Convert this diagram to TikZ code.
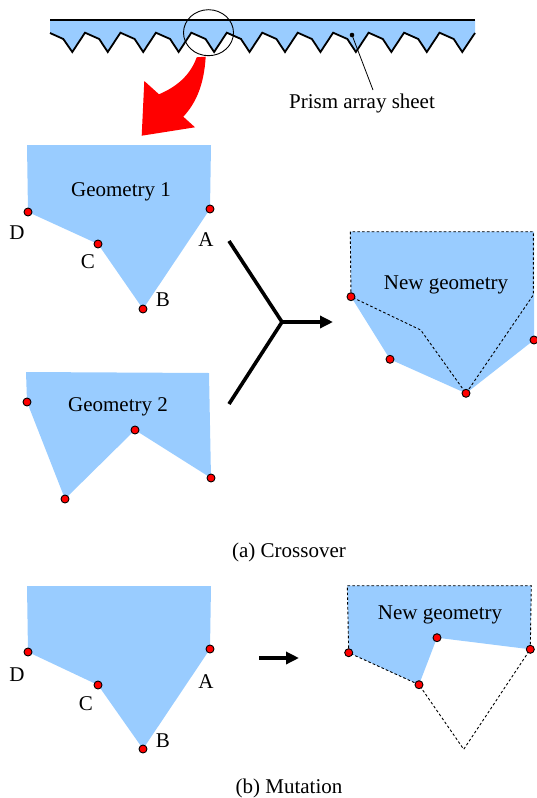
\documentclass[tikz,border=0pt]{standalone}
\usepackage{fontspec}
\setmainfont{Liberation Serif}
\definecolor{prismblue}{RGB}{153, 204, 255}
\usetikzlibrary{shapes.geometric, arrows.meta, positioning, calc}
\tikzset{
  vertexdot/.style={circle, draw=black, fill=red, line width=0.9pt, inner sep=0pt, minimum size=8pt},
  shapefill/.style={fill=prismblue, draw=none},
  dashline/.style={draw=black, dash pattern=on 2.6pt off 2.2pt, line width=0.9pt},
  textlabel/.style={font=\fontsize{21}{21}\selectfont, inner sep=0pt, yshift=-2pt},
  bigline/.style={draw=black, line width=3.6pt},
  bigarrow/.style={bigline, -{Stealth[length=13pt, width=12pt, inset=0pt]}}
}
\begin{document}
\begin{tikzpicture}[x=1pt, y=-1pt]
  \useasboundingbox (0,0) rectangle (536,798);

  % prism array sheet
  \fill[prismblue] (50,20) -- (475,20) -- (475,33) -- (462.25,52)
    \foreach \i in {10,9,...,0} {
      -- ({72.3+35.45*\i+26.9},39) -- ({72.3+35.45*\i+12.7},32.7) -- ({72.3+35.45*\i},52)
    } -- (63.3,39) -- (50,33) -- cycle;
  \draw[line width=1.8pt] (50,33) -- (63.3,39)
    \foreach \i in {0,...,10} {
      -- ({72.3+35.45*\i},52) -- ({72.3+35.45*\i+12.7},32.7) -- ({72.3+35.45*\i+26.9},39)
    } -- (462.25,52) -- (475,33);
  \draw[line width=1.8pt] (50,20) -- (475,20);
  \node[draw=black, ellipse, line width=0.9pt, minimum width=50pt, minimum height=46pt, inner sep=0pt] (zoomring) at (208.5,32.7) {};

  \node[textlabel] (sheetlabel) at (362,101) {Prism array sheet};
  \coordinate (sheettip) at (352,35);
  \fill (sheettip) circle (2.3pt);
  \draw[line width=0.8pt] (sheettip) -- (373,90);

  % red arrow
  \fill[red] (196.7,57.3) -- (205.7,56.7) .. controls (204,85) and (196,103) .. (183.3,116.7)
    -- (195,127.3) -- (141.7,135.7) -- (144.3,81) -- (159,94.3)
    .. controls (176,87) and (190,76) .. cycle;

  % geometry 1
  \fill[shapefill] (27,145) -- (211,145) -- (210,209) -- (143,309) -- (98,244) -- (28,212) -- cycle;
  \node[vertexdot] (oneA) at (210,209) {};
  \node[vertexdot] (oneB) at (143,309) {};
  \node[vertexdot] (oneC) at (98,244) {};
  \node[vertexdot] (oneD) at (28,212) {};
  \node[textlabel] (oneTitle) at (121,190) {Geometry 1};
  \node[textlabel] (oneLabelA) at (206,238) {A};
  \node[textlabel] (oneLabelB) at (163,298) {B};
  \node[textlabel] (oneLabelC) at (88,260) {C};
  \node[textlabel] (oneLabelD) at (17,231) {D};

  % geometry 2
  \fill[shapefill] (26,372) -- (209,373) -- (211,478) -- (135,430) -- (65,499) -- (27,402) -- cycle;
  \node[vertexdot] (twoA) at (211,478) {};
  \node[vertexdot] (twoB) at (135,430) {};
  \node[vertexdot] (twoC) at (65,499) {};
  \node[vertexdot] (twoD) at (27,402) {};
  \node[textlabel] (twoTitle) at (118,405) {Geometry 2};

  % crossover arrows
  \coordinate (joint) at (282,322);
  \coordinate (upper) at (229,241);
  \coordinate (lower) at (229,404);
  \coordinate (jointend) at (333,322);
  \draw[bigline, line join=bevel] (upper) -- (joint) -- (lower);
  \draw[bigarrow] (joint) -- (jointend);

  % crossover result
  \fill[shapefill] (350.3,231.7) -- (534,231.7) -- (534,340) -- (466,393.3) -- (390,359.3) -- (351,296.7) -- cycle;
  \draw[dashline] (351,296.7) -- (350.3,231.7) -- (533.3,231.7) -- (533.3,295) -- (466,393.3) -- (420.7,330) -- cycle;
  \node[vertexdot] (newA) at (534,340) {};
  \node[vertexdot] (newB) at (466,393.3) {};
  \node[vertexdot] (newC) at (390,359.3) {};
  \node[vertexdot] (newD) at (351,296.7) {};
  \node[textlabel] (newTitle) at (446,283) {New geometry};

  \node[textlabel] (captionA) at (289,550) {(a) Crossover};

  % mutation, parent
  \fill[shapefill] (27,586) -- (211,586) -- (210,649) -- (143,749) -- (98,685) -- (28,652) -- cycle;
  \node[vertexdot] (mutA) at (210,649) {};
  \node[vertexdot] (mutB) at (143,749) {};
  \node[vertexdot] (mutC) at (98,685) {};
  \node[vertexdot] (mutD) at (28,652) {};
  \node[textlabel] (mutLabelA) at (206,680) {A};
  \node[textlabel] (mutLabelB) at (163,739) {B};
  \node[textlabel] (mutLabelC) at (86,702) {C};
  \node[textlabel] (mutLabelD) at (17,673) {D};

  \coordinate (mutstart) at (259,658);
  \coordinate (mutend) at (299,658);
  \draw[bigarrow] (mutstart) -- (mutend);

  % mutation, result
  \fill[shapefill] (347.3,585.7) -- (531.3,585.7) -- (530.3,649.3) -- (437,637.7) -- (419,684.7) -- (348.7,652.7) -- cycle;
  \draw[dashline] (348.7,652.7) -- (347.3,585.7) -- (531.3,585.7) -- (530.3,649.3) -- (463.7,749.3) -- (419,684.7) -- cycle;
  \node[vertexdot] (resA) at (530.3,649.3) {};
  \node[vertexdot] (resB) at (437,637.7) {};
  \node[vertexdot] (resC) at (419,684.7) {};
  \node[vertexdot] (resD) at (348.7,652.7) {};
  \node[textlabel] (resTitle) at (440,613) {New geometry};

  \node[textlabel] (captionB) at (289,786) {(b) Mutation};
\end{tikzpicture}
\end{document}
